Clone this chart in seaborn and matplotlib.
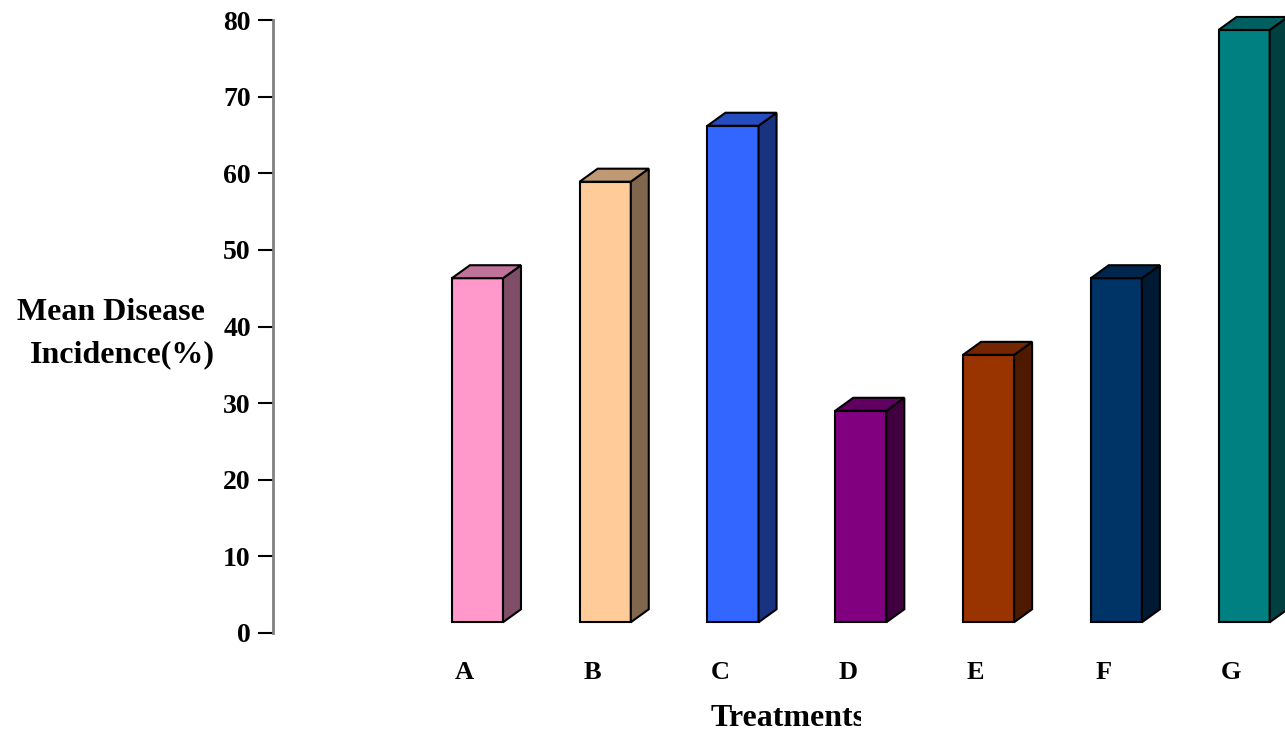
import numpy as np
import pandas as pd
import matplotlib
matplotlib.use('Agg')
import matplotlib.pyplot as plt
import seaborn as sns
from matplotlib.patches import Polygon, Rectangle
from matplotlib.colors import to_rgb

treatments = ['A', 'B', 'C', 'D', 'E', 'F', 'G']
incidence = [46.3, 58.9, 66.2, 29.0, 36.3, 46.3, 78.7]
colors = ['#FF99CC', '#FFCC99', '#3366FF', '#800080', '#993300', '#003366', '#008080']
ylabel_lines = ['Mean Disease', 'Incidence(%)']

df = pd.DataFrame({'Treatment': treatments, 'Incidence': incidence})

sns.set_style('white')
plt.rcParams['font.family'] = ['Liberation Serif', 'DejaVu Serif']
plt.rcParams['font.weight'] = 'bold'
plt.rcParams['text.color'] = 'black'
plt.rcParams['xtick.color'] = 'black'
plt.rcParams['ytick.color'] = 'black'
plt.rcParams['axes.labelcolor'] = 'black'

W, H = 1285, 734
fig = plt.figure(figsize=(W / 100, H / 100), dpi=100)
ax = fig.add_axes([273 / W, 1 - 633 / H, 1 - 273 / W, (633 - 20) / H])

sns.barplot(data=df, x='Treatment', y='Incidence', hue='Treatment', palette=colors,
            order=treatments, width=0.4, saturation=1, legend=False,
            edgecolor='black', linewidth=1.5, ax=ax)

ax.set_xlim(-1.6, 6.32)
ax.set_ylim(0, 80)

# 3d look: depth in pixels
depth_x, depth_y = 18, 13
p0 = ax.transData.transform((0, 0))
p1 = ax.transData.transform((1, 1))
dx = depth_x / (p1[0] - p0[0])
dy = depth_y / (p1[1] - p0[1])
base = 1.4

for patch, col in zip(ax.patches, colors):
    top = patch.get_y() + patch.get_height()
    patch.set_y(base)
    patch.set_height(top - base)
    x0 = patch.get_x()
    x1 = x0 + patch.get_width()
    rgb = np.array(to_rgb(col))
    side = Polygon([(x1, base), (x1 + dx, base + dy), (x1 + dx, top + dy), (x1, top)],
                   closed=True, facecolor=rgb * 0.5, edgecolor='black', linewidth=1.5,
                   clip_on=False, zorder=patch.get_zorder())
    roof = Polygon([(x0, top), (x0 + dx, top + dy), (x1 + dx, top + dy), (x1, top)],
                   closed=True, facecolor=rgb * 0.75, edgecolor='black', linewidth=1.5,
                   clip_on=False, zorder=patch.get_zorder())
    ax.add_patch(side)
    ax.add_patch(roof)

ax.set_xticks(np.arange(len(treatments)) - 0.1)
ax.set_xticklabels(treatments)
ax.set_yticks(np.arange(0, 81, 10))
ax.tick_params(axis='x', length=0, pad=20.5, labelsize=19)
ax.tick_params(axis='y', direction='out', length=11, width=1.5, color='black', pad=5, labelsize=20, left=True)
for lab in ax.get_xticklabels() + ax.get_yticklabels():
    lab.set_fontweight('bold')

for s in ['top', 'right', 'bottom']:
    ax.spines[s].set_visible(False)
ax.spines['left'].set_color('#808080')
ax.spines['left'].set_linewidth(2)

ax.set_xlabel('Treatments', fontsize=23, fontweight='bold')
ax.xaxis.set_label_coords((788 - 273) / (W - 273), -(718 - 633) / (633 - 20))
ax.xaxis.label.set_va('center')
clip = Rectangle((0, 0), 861 / W, 1, transform=fig.transFigure, visible=False)
fig.add_artist(clip)
ax.xaxis.label.set_clip_on(True)
ax.xaxis.label.set_clip_path(clip)

ax.set_ylabel('')
fig.text(111 / W, 1 - 313 / H, ylabel_lines[0], ha='center', va='center', fontsize=23, fontweight='bold')
fig.text(122 / W, 1 - 355 / H, ylabel_lines[1], ha='center', va='center', fontsize=23, fontweight='bold')

fig.savefig('out.png', dpi=100)
